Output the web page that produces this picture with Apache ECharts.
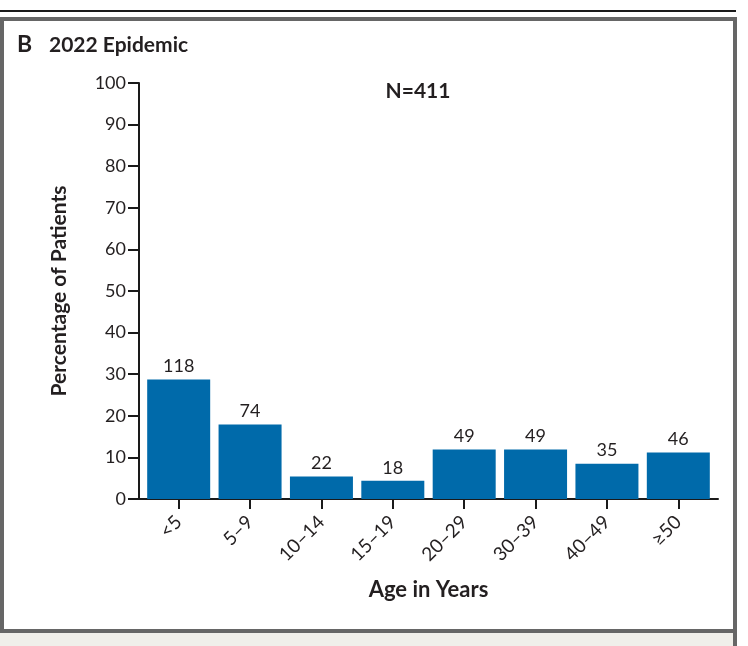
<!DOCTYPE html>
<html>
<head>
<meta charset="utf-8">
<script src="https://cdn.jsdelivr.net/npm/echarts@6/dist/echarts.min.js"></script>
<style>
html,body{margin:0;padding:0;background:#fff;}
#chart{width:748px;height:646px;}
</style>
</head>
<body>
<div id="chart"></div>
<script>
// Data
const categories = ['<5', '5–9', '10–14', '15–19', '20–29', '30–39', '40–49', '≥50'];
const percentValues = [28.7, 17.9, 5.4, 4.4, 11.9, 11.9, 8.5, 11.2];
const patientCounts = [118, 74, 22, 18, 49, 49, 35, 46];
const yTicks = [0, 10, 20, 30, 40, 50, 60, 70, 80, 90, 100];

const FONT = 'Lato';
const TXT = '#231f20';
const BAR = '#006aaa';

const chart = echarts.init(document.getElementById('chart'), null, {renderer: 'canvas'});
chart.setOption({
  animation: false,
  backgroundColor: '#ffffff',
  textStyle: {fontFamily: FONT, color: TXT},
  graphic: [
    {type: 'rect', shape: {x: 0, y: 633, width: 733, height: 13}, style: {fill: '#f0efea'}, silent: true, z: 0},
    {type: 'rect', shape: {x: 0, y: 10, width: 736, height: 2}, style: {fill: '#1a1a1a'}, silent: true},
    {type: 'rect', shape: {x: 2, y: 19, width: 733, height: 612}, style: {fill: 'none', stroke: '#666666', lineWidth: 4}, silent: true},
    {type: 'rect', shape: {x: 733, y: 631, width: 4, height: 15}, style: {fill: '#666666'}, silent: true},
    {type: 'text', left: 17, top: 33, style: {text: 'B', font: 'bold 23px ' + FONT, fill: TXT}},
    {type: 'text', left: 49, top: 35, style: {text: '2022 Epidemic', font: 'bold 21px ' + FONT, fill: TXT}},
    {type: 'text', x: 418, y: 91, style: {text: 'N=411', font: 'bold 21px ' + FONT, fill: TXT, textAlign: 'center', textVerticalAlign: 'middle'}}
  ],
  grid: [
    {left: 143, right: 34, top: 83, bottom: 147, containLabel: false},
    {left: 139, right: 30, top: 83, bottom: 147, containLabel: false}
  ],
  xAxis: [
    {
      type: 'category', gridIndex: 0, data: categories,
      axisLine: {show: false},
      axisTick: {show: true, alignWithLabel: true, length: 10, lineStyle: {color: '#1a1a1a', width: 2}},
      axisLabel: {rotate: 45, margin: 20, fontSize: 19, color: TXT, fontFamily: FONT, interval: 0},
      name: 'Age in Years', nameLocation: 'middle', nameGap: 80,
      nameTextStyle: {fontSize: 22, fontWeight: 'bold', color: TXT, fontFamily: FONT}
    },
    {
      type: 'value', gridIndex: 1, min: 0, max: 1,
      axisLine: {show: true, lineStyle: {color: '#1a1a1a', width: 2}},
      axisTick: {show: false}, axisLabel: {show: false}, splitLine: {show: false}
    }
  ],
  yAxis: [
    {type: 'value', gridIndex: 0, min: 0, max: 100, show: false, splitLine: {show: false}},
    {
      type: 'value', gridIndex: 1, min: 0, max: 100, interval: 10,
      axisLine: {show: true, lineStyle: {color: '#1a1a1a', width: 2}},
      axisTick: {show: true, length: 11, lineStyle: {color: '#1a1a1a', width: 2}},
      axisLabel: {
        margin: 13, fontSize: 18, color: TXT, fontFamily: FONT,
        formatter: function (v) { return yTicks.indexOf(v) >= 0 ? String(v) : ''; }
      },
      splitLine: {show: false},
      name: 'Percentage of Patients', nameLocation: 'middle', nameGap: 69,
      nameTextStyle: {fontSize: 21, fontWeight: 'bold', color: TXT, fontFamily: FONT}
    }
  ],
  series: [{
    type: 'bar', xAxisIndex: 0, yAxisIndex: 0,
    data: percentValues.map(function (v, i) { return {value: v, count: patientCounts[i]}; }),
    barWidth: 63,
    itemStyle: {color: BAR},
    label: {
      show: true, position: 'top', distance: 4, fontSize: 18, color: TXT, fontFamily: FONT,
      formatter: function (p) { return String(patientCounts[p.dataIndex]); }
    }
  }]
});
</script>
</body>
</html>
